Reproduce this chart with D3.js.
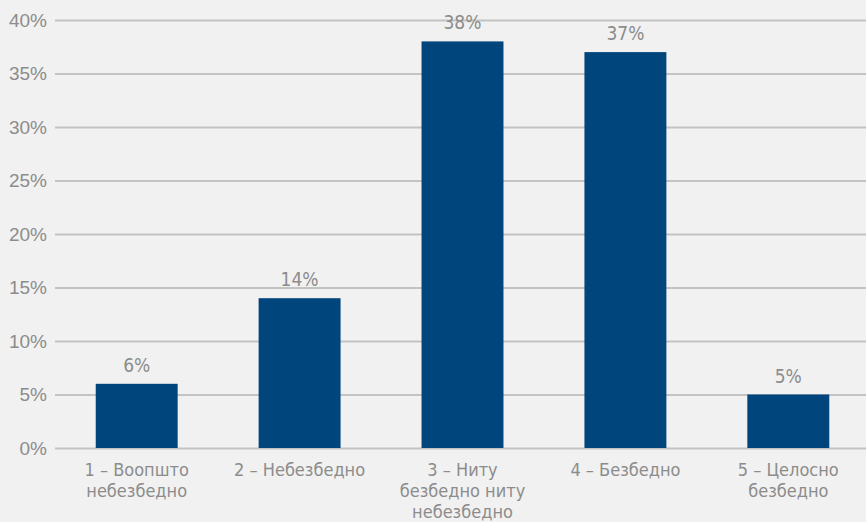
<!DOCTYPE html>
<html><head><meta charset="utf-8">
<script src="https://cdn.jsdelivr.net/npm/d3@7"></script>
<style>
body{margin:0;background:#f1f1f1;}
svg{display:block;font-family:"DejaVu Sans Condensed","Liberation Sans Narrow",sans-serif;font-stretch:condensed;}
</style></head><body>
<svg id="c" width="866" height="522"></svg>
<script>
const categories = [
  ["1 – Воопшто","небезбедно"],
  ["2 – Небезбедно"],
  ["3 – Ниту","безбедно ниту","небезбедно"],
  ["4 – Безбедно"],
  ["5 – Целосно","безбедно"]
];
const values = [6, 14, 38, 37, 5];
const yTicks = [0, 5, 10, 15, 20, 25, 30, 35, 40];

const svg = d3.select("#c");
svg.append("rect").attr("width",866).attr("height",522).attr("fill","#f1f1f1");

const x = d3.scaleBand().domain(d3.range(categories.length)).range([55, 870]).paddingInner(0.497).paddingOuter(0.25);
const y = d3.scaleLinear().domain([0, 40]).range([448, 20]);

const yAxis = svg.append("g").attr("transform","translate(55,0)")
  .call(d3.axisLeft(y).tickValues(yTicks).tickFormat(d => d + "%").tickSize(-815).tickPadding(8));
yAxis.select(".domain").remove();
yAxis.selectAll(".tick line").attr("stroke","#c3c3c3").attr("stroke-width",2);
yAxis.selectAll(".tick text").attr("fill","#8c8c8c").attr("font-size",19);

svg.append("g").selectAll("rect").data(values).join("rect")
  .attr("x",(d,i)=>x(i)).attr("width",x.bandwidth())
  .attr("y",d=>y(d)).attr("height",d=>y(0)-y(d))
  .attr("fill","#00457c");

svg.append("g").selectAll("text").data(values).join("text")
  .attr("x",(d,i)=>x(i)+x.bandwidth()/2).attr("y",d=>y(d)-12)
  .attr("text-anchor","middle").attr("fill","#8c8c8c").attr("font-size",19)
  .text(d=>d+"%");

const xl = svg.append("g").selectAll("text").data(categories).join("text")
  .attr("text-anchor","middle").attr("fill","#8c8c8c").attr("font-size",18)
  .attr("x",(d,i)=>x(i)+x.bandwidth()/2).attr("y",476);
xl.selectAll("tspan").data(d=>d).join("tspan")
  .attr("x",function(){return this.parentNode.getAttribute("x");})
  .attr("dy",(d,i)=>i===0?0:21).text(d=>d);
</script></body></html>
